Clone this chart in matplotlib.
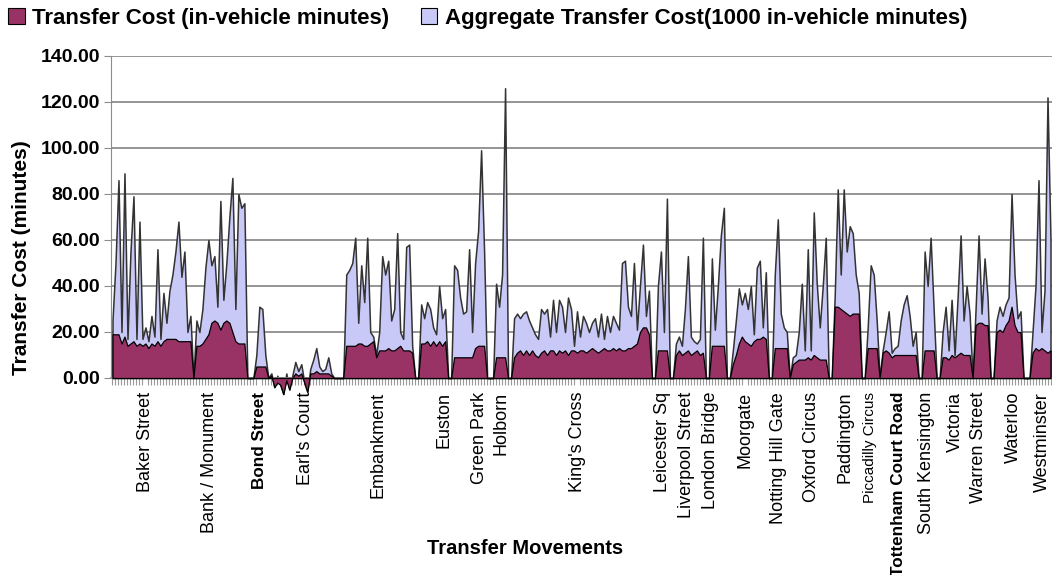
import numpy as np
import matplotlib.pyplot as plt
from matplotlib.patches import Patch

plt.rcParams['font.family'] = ['Liberation Sans', 'DejaVu Sans']

# Station labels and the movement index each label sits under
stations = ["Baker Street", "Bank / Monument", "Bond Street", "Earl's Court", "Embankment",
            "Euston", "Green Park", "Holborn", "King's Cross", "Leicester Sq",
            "Liverpool Street", "London Bridge", "Moorgate", "Notting Hill Gate",
            "Oxford Circus", "Paddington", "Piccadilly Circus", "Tottenham Court Road",
            "South Kensington", "Victoria", "Warren Street", "Waterloo", "Westminster"]
label_index = [11, 32.5, 49, 64.5, 88.5, 110.5, 122.3, 129.7, 155, 183.4, 191.5, 199.7,
               211, 222.3, 233.4, 244.5, 252.8, 262.3, 271.5, 281.2, 288.9, 300.6, 310.4]

# Aggregate transfer cost (1000 in-vehicle minutes), one value per transfer movement
aggregate_cost = [
    25, 50, 86, 20, 89, 17, 55, 79, 17, 68, 17, 22, 16, 27, 18, 56, 17, 37, 24, 38, 45, 55, 68, 44, 55, 20, 27,  # Baker Street
    0,
    25, 20, 30, 48, 60, 49, 53, 31, 77, 34, 50, 70, 87, 30, 80, 74, 76,  # Bank / Monument
    0, 0, 0,
    10, 31, 30, 10,  # Bond Street
    0,
    2, -4, 1, -3, -7, 2, -5, 1, 7, 3, 6, -2, -6, 4, 8, 13, 5, 3, 4, 9, 2,  # Earl's Court
    0, 0, 0, 0,
    45, 47, 50, 61, 24, 49, 33, 61, 20, 18, 10, 20, 53, 45, 51, 25, 30, 63, 20, 17, 57, 58, 14,  # Embankment
    0, 0,
    32, 26, 33, 30, 22, 19, 40, 26, 30,  # Euston
    0, 0,
    49, 47, 35, 28, 29, 56, 20, 50, 64, 99, 55,  # Green Park
    0, 0, 0,
    41, 31, 45, 126,  # Holborn
    0, 0,
    26, 28, 26, 28, 29, 25, 22, 19, 17, 30, 28, 30, 18, 34, 20, 34, 31, 20, 35, 30, 14, 29, 18,
    27, 24, 20, 24, 26, 18, 28, 17, 27, 20, 27, 24, 21, 50, 51, 31, 27, 50, 21, 40, 58, 27, 38,  # King's Cross
    0, 0,
    40, 55, 20, 78,  # Leicester Sq
    0, 0,
    15, 18, 14, 30, 53, 18, 16, 15, 17, 61,  # Liverpool Street
    0, 0,
    52, 21, 40, 62, 74,  # London Bridge
    0, 0,
    12, 25, 39, 32, 37, 30, 40, 19, 48, 51, 22, 46,  # Moorgate
    0, 0,
    45, 69, 28, 22, 20,  # Notting Hill Gate
    0,
    9, 10, 20, 41, 12, 56, 12, 72, 41, 22, 40, 61,  # Oxford Circus
    0, 0,
    36, 82, 45, 82, 55, 66, 63, 45, 37,  # Paddington
    0, 0,
    22, 49, 45, 25,  # Piccadilly Circus
    0,
    12, 20, 29, 11, 13, 14, 25, 32, 36, 27, 14, 20,  # Tottenham Court Road
    0, 0,
    55, 40, 61, 30,  # South Kensington
    0, 0,
    20, 31, 12, 34, 10, 35, 62, 25, 40, 28,  # Victoria
    0,
    30, 62, 28, 52, 35,  # Warren Street
    0, 0,
    25, 31, 27, 32, 35, 80, 45, 26, 29,  # Waterloo
    0, 0, 0,
    20, 40, 86, 20, 38, 122, 60,  # Westminster
]

# Transfer cost (in-vehicle minutes), one value per transfer movement
transfer_cost = [
    19, 19, 19, 15, 18, 14, 15, 16, 14, 15, 14, 15, 13, 15, 14, 16, 14, 16, 17, 17, 17, 17, 16, 16, 16, 16, 16,
    0,
    14, 14, 15, 17, 19, 24, 25, 24, 21, 24, 25, 24, 20, 16, 15, 15, 15,
    0, 0, 0,
    5, 5, 5, 5,
    0,
    1, -4, -2, -3, -7, -1, -5, 0, 2, 1, 2, -2, -6, 2, 2, 3, 2, 2, 2, 2, 1,
    0, 0, 0, 0,
    14, 14, 14, 14, 15, 15, 14, 14, 15, 16, 9, 12, 12, 12, 13, 12, 12, 13, 14, 12, 12, 12, 11,
    0, 0,
    15, 15, 16, 14, 16, 14, 16, 14, 16,
    0, 0,
    9, 9, 9, 9, 9, 9, 9, 13, 14, 14, 14,
    0, 0, 0,
    9, 9, 9, 9,
    0, 0,
    9, 11, 12, 10, 12, 10, 12, 10, 9, 11, 12, 10, 12, 12, 10, 12, 11, 12, 10, 12, 12, 11, 12,
    12, 11, 12, 13, 12, 11, 12, 13, 12, 12, 13, 12, 13, 12, 12, 13, 13, 14, 15, 20, 22, 22, 19,
    0, 0,
    12, 12, 12, 12,
    0, 0,
    10, 12, 10, 11, 12, 10, 11, 12, 10, 11,
    0, 0,
    14, 14, 14, 14, 14,
    0, 0,
    6, 10, 15, 18, 16, 15, 14, 16, 17, 17, 18, 17,
    0, 0,
    13, 13, 13, 13, 13,
    0,
    6, 7, 8, 8, 8, 9, 8, 10, 9, 8, 8, 8,
    0, 0,
    31, 31, 30, 29, 28, 27, 28, 28, 28,
    0, 0,
    13, 13, 13, 13,
    0,
    11, 12, 11, 9, 10, 10, 10, 10, 10, 10, 10, 10,
    0, 0,
    12, 12, 12, 12,
    0, 0,
    9, 9, 8, 10, 9, 10, 11, 10, 10, 10,
    0,
    23, 24, 24, 23, 23,
    0, 0,
    20, 21, 20, 23, 25, 31, 23, 20, 20,
    0, 0, 0,
    11, 13, 12, 13, 12, 11, 12,
]

y_ticks = [0, 20, 40, 60, 80, 100, 120, 140]

agg = np.array(aggregate_cost, dtype=float)
cost = np.array(transfer_cost, dtype=float)
x = np.arange(len(agg))

W, H = 1052, 575
fig = plt.figure(figsize=(W / 100, H / 100), dpi=100)
ax = fig.add_axes([111 / W, (H - 378) / H, (W - 111) / W, 322 / H])

light = "#C9C9F7"
dark = "#993366"
ax.fill_between(x, agg, 0, facecolor=light, edgecolor="#333333", lw=1.1, clip_on=False, zorder=2)
ax.fill_between(x, cost, 0, facecolor=dark, edgecolor="black", lw=0.9, clip_on=False, zorder=3)

ax.set_xlim(-0.5, len(agg) - 0.5)
ax.set_ylim(0, 140)
ax.set_yticks(y_ticks)
ax.set_yticklabels([f"{v:.2f}" for v in y_ticks], fontsize=14, fontweight="bold")
ax.yaxis.grid(True, color="#8c8c8c", lw=1.3)
ax.set_axisbelow(True)
ax.tick_params(axis="y", length=5, color="#8c8c8c", pad=3)

ax.set_xticks(x, minor=True)
ax.set_xticks(label_index)
ax.set_xticklabels(stations, rotation=90, ha="center", va="top", fontsize=13)
ax.tick_params(axis="x", which="major", length=0, pad=10)
ax.tick_params(axis="x", which="minor", length=5, width=0.8, color="#999999")
for lab in ax.get_xticklabels():
    if lab.get_text() in ("Bond Street", "Tottenham Court Road"):
        lab.set_fontweight("bold")
        lab.set_fontsize(12.3)
    if lab.get_text() == "Piccadilly Circus":
        lab.set_fontsize(11)

for s in ("top", "right"):
    ax.spines[s].set_visible(False)
ax.spines["left"].set_color("#8c8c8c")
ax.spines["bottom"].set_color("#8c8c8c")
ax.spines["bottom"].set_linewidth(1.3)

fig.text(22 / W, 1 - 258 / H, "Transfer Cost (minutes)", rotation=90, ha="center", va="center",
         fontsize=15, fontweight="bold")
fig.text(525 / W, 1 - 548 / H, "Transfer Movements", ha="center", va="center",
         fontsize=14.5, fontweight="bold")

handles = [Patch(facecolor=dark, edgecolor="black", lw=0.8),
           Patch(facecolor=light, edgecolor="black", lw=0.8)]
fig.legend(handles, ["Transfer Cost (in-vehicle minutes)",
                     "Aggregate Transfer Cost(1000 in-vehicle minutes)"],
           loc="upper left", bbox_to_anchor=(8 / W, 1 - 8 / H), ncol=2, frameon=False,
           borderpad=0, borderaxespad=0, handlelength=0.75, handleheight=0.75,
           handletextpad=0.35, columnspacing=1.4,
           prop={"weight": "bold", "size": 16})

fig.savefig("out.png", dpi=100)
